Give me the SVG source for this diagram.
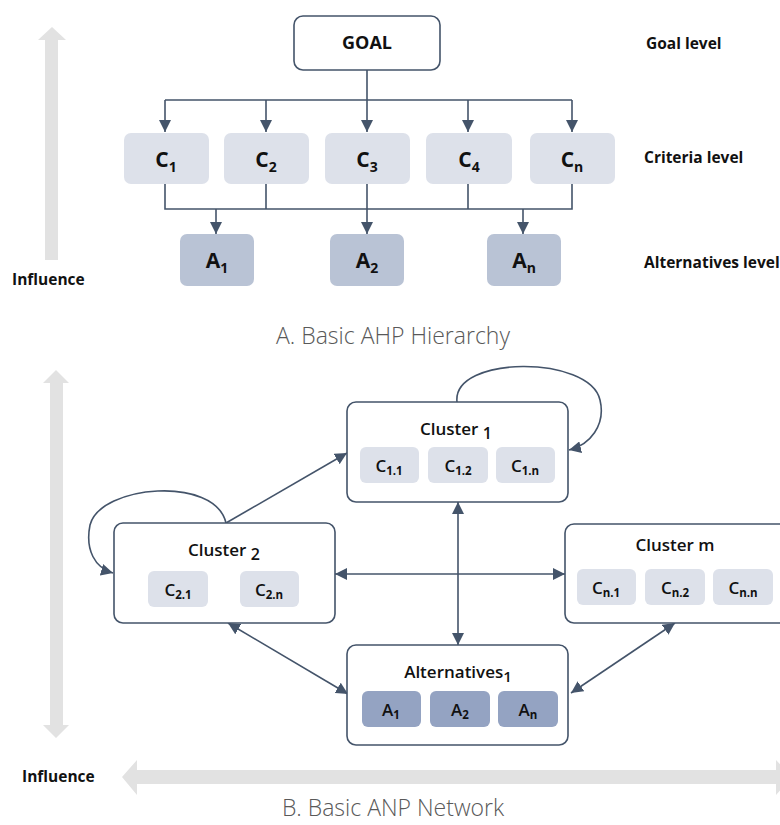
<svg xmlns="http://www.w3.org/2000/svg" width="780" height="825" viewBox="0 0 780 825">
  <style>
    .lbl { font-family: "Open Sans", "Liberation Sans", sans-serif; fill: #111; }
    .b { font-weight: 700; }
    .sb { font-weight: 600; }
    .title { font-family: "Open Sans", "Liberation Sans", sans-serif; font-weight: 300; font-size: 23px; fill: #595959; }
    .crit { fill: #dde1ea; }
    .alt { fill: #b9c3d5; }
    .altin { fill: #94a3c2; }
    .frame { fill: #fff; stroke: #44546a; stroke-width: 1.6; }
    .wire { fill: none; stroke: #44546a; stroke-width: 1.6; }
    .big { fill: #e2e2e2; }
  </style>
  <defs>
    <marker id="ahs" viewBox="0 0 10 10" refX="10" refY="5" markerWidth="12" markerHeight="12" markerUnits="userSpaceOnUse" orient="auto-start-reverse">
      <path d="M0,0 L10,5 L0,10 Z" fill="#44546a"/>
    </marker>
  </defs>

  <!-- influence arrows -->
  <g id="influence">
    <polygon class="big" points="52,27 66,40 58,40 58,260 45,260 45,40 38,40"/>
    <polygon class="big" points="56,370 69,383 63,383 63,725 69,725 56,738 43,725 50,725 50,383 43,383"/>
    <polygon class="big" points="122,777 137,760 137,770 776,770 776,760 792,777 776,795 776,784 137,784 137,795"/>
    <text class="lbl b" x="12" y="285" font-size="15.5">Influence</text>
    <text class="lbl b" x="22" y="782" font-size="15.5">Influence</text>
  </g>

  <!-- AHP hierarchy connectors -->
  <g id="ahp-connectors">
    <path class="wire" d="M367,70 V100 M165,100 H572"/>
    <path class="wire" marker-end="url(#ahs)" d="M165,100 V132"/>
    <path class="wire" marker-end="url(#ahs)" d="M266,100 V132"/>
    <path class="wire" marker-end="url(#ahs)" d="M367,100 V132"/>
    <path class="wire" marker-end="url(#ahs)" d="M468,100 V132"/>
    <path class="wire" marker-end="url(#ahs)" d="M572,100 V132"/>
    <path class="wire" d="M165,184 V209 H572 V184 M266,184 V209 M468,184 V209"/>
    <path class="wire" marker-end="url(#ahs)" d="M216,209 V234"/>
    <path class="wire" marker-end="url(#ahs)" d="M367,184 V234"/>
    <path class="wire" marker-end="url(#ahs)" d="M523,209 V234"/>
  </g>

  <g id="goal">
    <rect class="frame" x="294" y="16" width="146" height="54" rx="9" stroke-width="2.2"/>
    <text class="lbl b" x="367" y="49" font-size="18" text-anchor="middle">GOAL</text>
  </g>

  <g id="c1"><rect class="crit" x="124" y="133" width="85" height="51" rx="7"/>
    <text class="lbl b" x="166" y="167" font-size="21" text-anchor="middle">C<tspan font-size="14" dy="5">1</tspan></text></g>
  <g id="c2"><rect class="crit" x="224" y="133" width="85" height="51" rx="7"/>
    <text class="lbl b" x="266" y="167" font-size="21" text-anchor="middle">C<tspan font-size="14" dy="5">2</tspan></text></g>
  <g id="c3"><rect class="crit" x="325" y="133" width="85" height="51" rx="7"/>
    <text class="lbl b" x="367" y="167" font-size="21" text-anchor="middle">C<tspan font-size="14" dy="5">3</tspan></text></g>
  <g id="c4"><rect class="crit" x="426" y="133" width="86" height="51" rx="7"/>
    <text class="lbl b" x="469" y="167" font-size="21" text-anchor="middle">C<tspan font-size="14" dy="5">4</tspan></text></g>
  <g id="cn"><rect class="crit" x="530" y="133" width="85" height="51" rx="7"/>
    <text class="lbl b" x="572" y="167" font-size="21" text-anchor="middle">C<tspan font-size="14" dy="5">n</tspan></text></g>

  <g id="a1"><rect class="alt" x="180" y="234" width="74" height="52" rx="7"/>
    <text class="lbl b" x="217" y="268" font-size="21" text-anchor="middle">A<tspan font-size="14" dy="5">1</tspan></text></g>
  <g id="a2"><rect class="alt" x="330" y="234" width="74" height="52" rx="7"/>
    <text class="lbl b" x="367" y="268" font-size="21" text-anchor="middle">A<tspan font-size="14" dy="5">2</tspan></text></g>
  <g id="an"><rect class="alt" x="487" y="234" width="74" height="52" rx="7"/>
    <text class="lbl b" x="524" y="268" font-size="21" text-anchor="middle">A<tspan font-size="14" dy="5">n</tspan></text></g>

  <g id="levels">
    <text class="lbl b" x="646" y="49" font-size="15.5">Goal level</text>
    <text class="lbl b" x="644" y="163" font-size="15.5">Criteria level</text>
    <text class="lbl b" x="644" y="268" font-size="15.5">Alternatives level</text>
  </g>

  <text class="title" x="393" y="344" text-anchor="middle">A. Basic AHP Hierarchy</text>

  <!-- ANP network connectors -->
  <g id="anp-connectors">
    <path class="wire" marker-end="url(#ahs)" d="M457,402 C452,355 590,355 600,400 C606,425 590,445 569,450"/>
    <path class="wire" marker-end="url(#ahs)" d="M226,523 C215,475 100,485 90,525 C85,550 95,568 113,573"/>
    <path class="wire" marker-end="url(#ahs)" d="M226,523 L347,453"/>
    <path class="wire" marker-start="url(#ahs)" marker-end="url(#ahs)" d="M335,574 H565"/>
    <path class="wire" marker-start="url(#ahs)" marker-end="url(#ahs)" d="M458,502 V645"/>
    <path class="wire" marker-start="url(#ahs)" marker-end="url(#ahs)" d="M228,623 L348,694"/>
    <path class="wire" marker-start="url(#ahs)" marker-end="url(#ahs)" d="M675,623 L571,693"/>
  </g>

  <g id="cluster1">
    <rect class="frame" x="347" y="402" width="221" height="100" rx="9"/>
    <text class="lbl sb" x="456" y="435" font-size="17" text-anchor="middle">Cluster <tspan font-size="16" dy="4">1</tspan></text>
    <rect class="crit" x="360" y="447" width="59" height="36" rx="6"/>
    <text class="lbl sb" x="389" y="472" font-size="17" text-anchor="middle">C<tspan font-size="11.5" font-weight="700" dy="3">1.1</tspan></text>
    <rect class="crit" x="428" y="447" width="60" height="36" rx="6"/>
    <text class="lbl sb" x="458" y="472" font-size="17" text-anchor="middle">C<tspan font-size="11.5" font-weight="700" dy="3">1.2</tspan></text>
    <rect class="crit" x="496" y="447" width="59" height="36" rx="6"/>
    <text class="lbl sb" x="525" y="472" font-size="17" text-anchor="middle">C<tspan font-size="11.5" font-weight="700" dy="3">1.n</tspan></text>
  </g>

  <g id="cluster2">
    <rect class="frame" x="114" y="523" width="221" height="100" rx="9"/>
    <text class="lbl sb" x="224" y="556" font-size="17" text-anchor="middle">Cluster <tspan font-size="16" dy="4">2</tspan></text>
    <rect class="crit" x="148" y="571" width="60" height="36" rx="6"/>
    <text class="lbl sb" x="178" y="596" font-size="17" text-anchor="middle">C<tspan font-size="11.5" font-weight="700" dy="3">2.1</tspan></text>
    <rect class="crit" x="240" y="571" width="59" height="36" rx="6"/>
    <text class="lbl sb" x="269" y="596" font-size="17" text-anchor="middle">C<tspan font-size="11.5" font-weight="700" dy="3">2.n</tspan></text>
  </g>

  <g id="clusterm">
    <rect class="frame" x="565" y="524" width="230" height="99" rx="9"/>
    <text class="lbl sb" x="675" y="551" font-size="17" text-anchor="middle">Cluster m</text>
    <rect class="crit" x="577" y="569" width="59" height="36" rx="6"/>
    <text class="lbl sb" x="606" y="594" font-size="17" text-anchor="middle">C<tspan font-size="11.5" font-weight="700" dy="3">n.1</tspan></text>
    <rect class="crit" x="645" y="569" width="60" height="36" rx="6"/>
    <text class="lbl sb" x="675" y="594" font-size="17" text-anchor="middle">C<tspan font-size="11.5" font-weight="700" dy="3">n.2</tspan></text>
    <rect class="crit" x="713" y="569" width="60" height="36" rx="6"/>
    <text class="lbl sb" x="743" y="594" font-size="17" text-anchor="middle">C<tspan font-size="11.5" font-weight="700" dy="3">n.n</tspan></text>
  </g>

  <g id="alternatives">
    <rect class="frame" x="347" y="645" width="221" height="100" rx="9"/>
    <text class="lbl sb" x="458" y="678" font-size="17" text-anchor="middle">Alternatives<tspan font-size="15" dy="4">1</tspan></text>
    <rect class="altin" x="362" y="691" width="59" height="36" rx="6"/>
    <text class="lbl sb" x="391" y="716" font-size="17" text-anchor="middle">A<tspan font-size="11.5" font-weight="700" dy="3">1</tspan></text>
    <rect class="altin" x="430" y="691" width="60" height="36" rx="6"/>
    <text class="lbl sb" x="460" y="716" font-size="17" text-anchor="middle">A<tspan font-size="11.5" font-weight="700" dy="3">2</tspan></text>
    <rect class="altin" x="498" y="691" width="60" height="36" rx="6"/>
    <text class="lbl sb" x="528" y="716" font-size="17" text-anchor="middle">A<tspan font-size="11.5" font-weight="700" dy="3">n</tspan></text>
  </g>

  <text class="title" x="393" y="816" text-anchor="middle">B. Basic ANP Network</text>
</svg>
